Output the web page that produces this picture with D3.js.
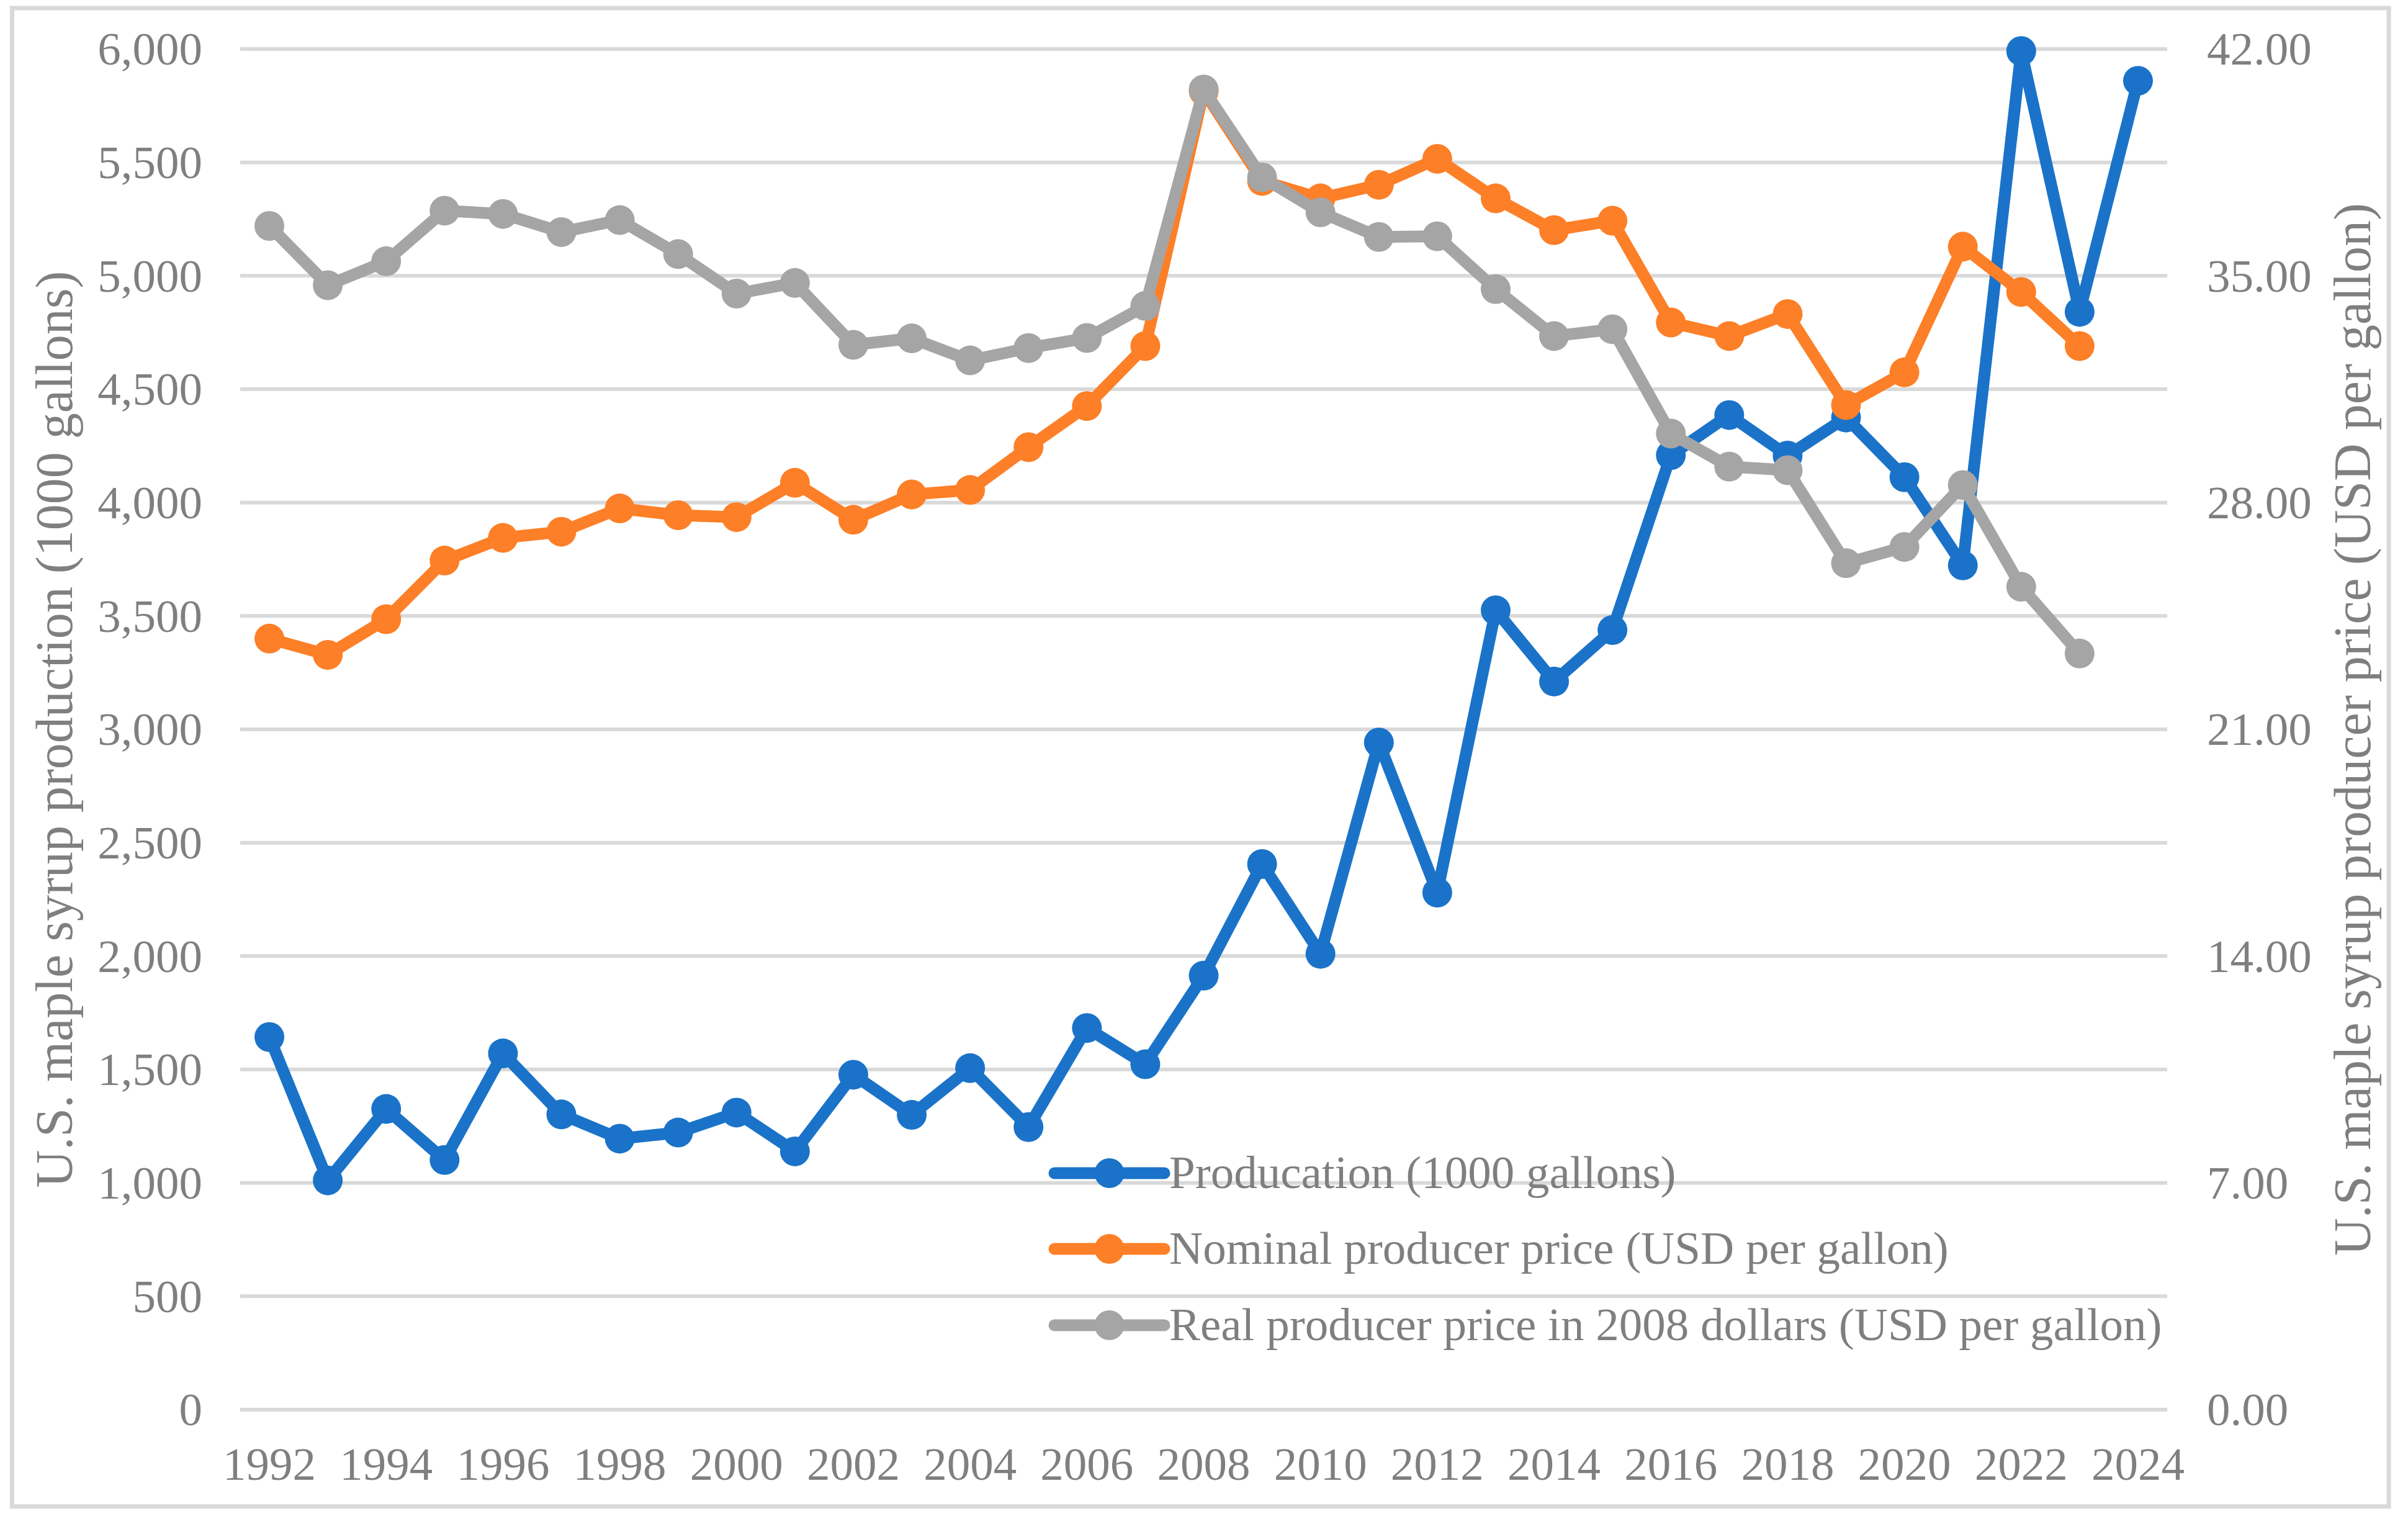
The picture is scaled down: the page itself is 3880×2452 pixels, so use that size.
<!DOCTYPE html>
<html>
<head>
<meta charset="utf-8">
<script src="https://cdn.jsdelivr.net/npm/d3@7"></script>
<style>
  html, body { margin: 0; padding: 0; background: #ffffff; }
  svg { display: block; }
</style>
</head>
<body>
<svg id="chart" width="3880" height="2452"></svg>
<script>
// ---------- data ----------
const years = [1992,1993,1994,1995,1996,1997,1998,1999,2000,2001,2002,2003,2004,2005,2006,2007,2008,
               2009,2010,2011,2012,2013,2014,2015,2016,2017,2018,2019,2020,2021,2022,2023,2024];
const production = [1643,1011,1326,1101,1571,1302,1195,1222,1310,1139,1477,1300,1506,1246,1683,1523,1914,
                    2406,2010,2942,2280,3525,3211,3438,4209,4386,4207,4375,4112,3723,5991,4841,5860];
const nominalPrice = [23.80,23.30,24.40,26.21,26.91,27.10,27.82,27.61,27.55,28.61,27.47,28.25,28.39,29.71,30.98,32.83,40.70,
                      37.93,37.39,37.81,38.61,37.39,36.41,36.70,33.56,33.14,33.82,31.01,32.02,35.90,34.50,32.83,null];
const realPrice = [36.54,34.71,35.45,37.01,36.91,36.35,36.72,35.67,34.45,34.78,32.87,33.07,32.39,32.77,33.08,34.07,40.75,
                   38.04,36.96,36.20,36.22,34.59,33.14,33.35,30.13,29.11,29.00,26.13,26.63,28.54,25.40,23.34,null];
const leftTicks = [0,500,1000,1500,2000,2500,3000,3500,4000,4500,5000,5500,6000];
const rightTicks = [0,7,14,21,28,35,42];
const xTickYears = [1992,1994,1996,1998,2000,2002,2004,2006,2008,2010,2012,2014,2016,2018,2020,2022,2024];
const seriesNames = ["Producation (1000 gallons)",
                     "Nominal producer price (USD per gallon)",
                     "Real producer price in 2008 dollars (USD per gallon)"];
const leftTitle = "U.S. maple syrup production (1000 gallons)";
const rightTitle = "U.S. maple syrup producer price (USD per gallon)";

// ---------- layout ----------
const plot = { left: 387, right: 3492, top: 79, bottom: 2271 };
const FONT = "'Liberation Serif', 'Times New Roman', serif";
const TEXT = "#7f7f7f";
const GRID = "#d9d9d9";
const colors = ["#1a73c8", "#fd7f27", "#a5a5a5"];

const svg = d3.select("#chart");

// outer chart border
svg.append("rect")
  .attr("x", 19.5).attr("y", 13).attr("width", 3829.5).attr("height", 2414)
  .attr("fill", "#ffffff").attr("stroke", GRID).attr("stroke-width", 7);

const x = d3.scaleBand().domain(years).range([plot.left, plot.right]).padding(0);
const cx = d => x(d) + x.bandwidth() / 2;
const yL = d3.scaleLinear().domain([0, 6000]).range([plot.bottom, plot.top]);
const yR = d3.scaleLinear().domain([0, 42]).range([plot.bottom, plot.top]);

// gridlines
svg.append("g").selectAll("line").data(leftTicks).join("line")
  .attr("x1", plot.left).attr("x2", plot.right)
  .attr("y1", d => yL(d)).attr("y2", d => yL(d))
  .attr("stroke", GRID).attr("stroke-width", 6);

// left axis
const gL = svg.append("g").attr("transform", `translate(${plot.left},0)`)
  .call(d3.axisLeft(yL).tickValues(leftTicks).tickFormat(d3.format(",")).tickSize(0).tickPadding(61));
gL.select(".domain").remove();
gL.selectAll("text").attr("fill", TEXT).attr("dy", "0.33em").style("font-family", FONT).style("font-size", "75px");

// right axis
const gR = svg.append("g").attr("transform", `translate(${plot.right},0)`)
  .call(d3.axisRight(yR).tickValues(rightTicks).tickFormat(d3.format(".2f")).tickSize(0).tickPadding(64));
gR.select(".domain").remove();
gR.selectAll("text").attr("fill", TEXT).attr("dy", "0.33em").style("font-family", FONT).style("font-size", "75px");

// bottom axis
const gB = svg.append("g").attr("transform", `translate(0,${plot.bottom})`)
  .call(d3.axisBottom(x).tickValues(xTickYears).tickSize(0));
gB.select(".domain").remove();
gB.selectAll("text").attr("fill", TEXT).attr("dy", null).attr("y", 113)
  .style("font-family", FONT).style("font-size", "75px");

// axis titles
svg.append("text")
  .attr("transform", `translate(116,${(plot.top + plot.bottom) / 2}) rotate(-90)`)
  .attr("text-anchor", "middle").attr("fill", TEXT)
  .style("font-family", FONT).style("font-size", "84px")
  .text(leftTitle);
svg.append("text")
  .attr("transform", `translate(3819,${(plot.top + plot.bottom) / 2}) rotate(-90)`)
  .attr("text-anchor", "middle").attr("fill", TEXT)
  .style("font-family", FONT).style("font-size", "84px")
  .text(rightTitle);

// series
const series = [
  { values: production, y: yL, color: colors[0] },
  { values: nominalPrice, y: yR, color: colors[1] },
  { values: realPrice, y: yR, color: colors[2] }
];
series.forEach(s => {
  const pts = years.map((yr, i) => ({ yr, v: s.values[i] })).filter(p => p.v != null);
  const line = d3.line().x(p => cx(p.yr)).y(p => s.y(p.v));
  const g = svg.append("g");
  g.append("path").datum(pts).attr("d", line)
    .attr("fill", "none").attr("stroke", s.color).attr("stroke-width", 19)
    .attr("stroke-linejoin", "round").attr("stroke-linecap", "round");
  g.selectAll("circle").data(pts).join("circle")
    .attr("cx", p => cx(p.yr)).attr("cy", p => s.y(p.v)).attr("r", 24)
    .attr("fill", s.color);
});

// legend
const legend = { x1: 1699, x2: 1876, textX: 1884, rows: [1890, 2012, 2135] };
seriesNames.forEach((name, i) => {
  const g = svg.append("g");
  const yy = legend.rows[i];
  g.append("line").attr("x1", legend.x1).attr("x2", legend.x2).attr("y1", yy).attr("y2", yy)
    .attr("stroke", colors[i]).attr("stroke-width", 19).attr("stroke-linecap", "round");
  g.append("circle").attr("cx", (legend.x1 + legend.x2) / 2).attr("cy", yy).attr("r", 24).attr("fill", colors[i]);
  g.append("text").attr("x", legend.textX).attr("y", yy + 24).attr("fill", TEXT)
    .style("font-family", FONT).style("font-size", "75px").text(name);
});
</script>
</body>
</html>
